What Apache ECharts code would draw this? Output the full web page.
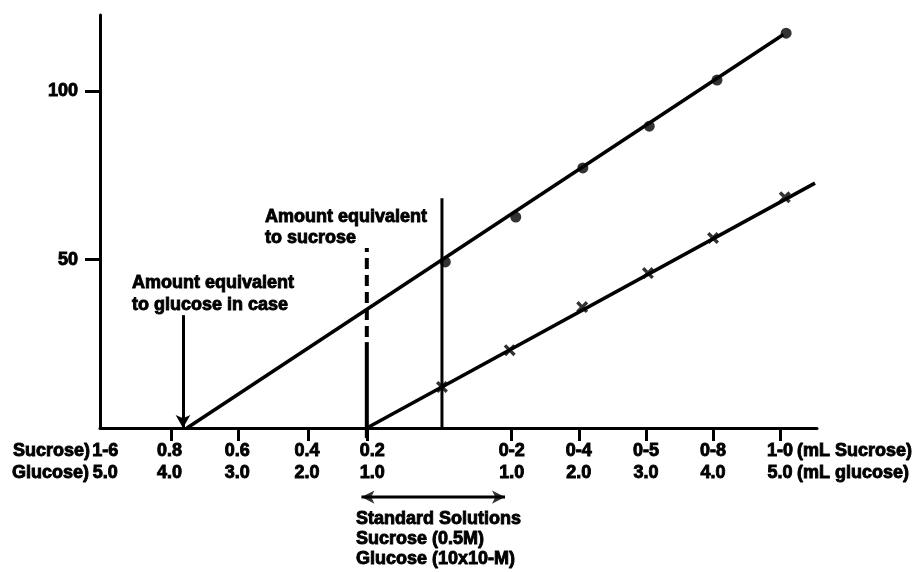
<!DOCTYPE html>
<html>
<head>
<meta charset="utf-8">
<script src="https://cdn.jsdelivr.net/npm/echarts@6/dist/echarts.min.js"></script>
<style>html,body{margin:0;padding:0;background:#fff}#c{width:916px;height:572px}</style>
</head>
<body>
<div id="c"></div>
<script>
// ---- data ----
const yTickValues = [50, 100];
const sucroseTickLabels = ['1-6', '0.8', '0.6', '0.4', '0.2', '0-2', '0-4', '0-5', '0-8', '1-0'];
const glucoseTickLabels = ['5.0', '4.0', '3.0', '2.0', '1.0', '1.0', '2.0', '3.0', '4.0', '5.0'];
const labelValues = [-5.06, -4.10, -3.09, -2.05, -1.08, 1, 2, 3, 4, 5];
const tickValues = [-4.07, -3.08, -2.04, -1.16, 1, 2, 3, 4, 5];
const sucrosePoints = [[0.01, 49.3], [1.06, 62.6], [2.06, 77.2], [3.05, 89.6], [4.06, 103.3], [5.09, 117.2]];
const glucosePoints = [[-0.04, 12.2], [0.97, 23.1], [2.05, 35.9], [3.03, 46.0], [4.0, 56.4], [5.07, 68.5]];
const sucroseFit = [[-3.84, 0], [5.05, 116.8]];
const glucoseFit = [[-1.16, 0], [5.52, 72.7]];
const sampleLine = [[-0.04, 0], [-0.04, 68.2]];
const sucroseMarkSolid = [[-1.16, -3], [-1.16, 25.5]];
const sucroseMarkDashed = [[-1.16, 27], [-1.16, 53.4]];
const glucoseArrow = [[-3.90, 33.5], [-3.90, 0]];
const standardsArrow = [[-1.24, -20.5], [0.90, -20.5]];

const FONT = '"Liberation Sans", Arial, sans-serif';
const chart = echarts.init(document.getElementById('c'));
const xSymbol = 'path://M0,2 L2,0 L5,3 L8,0 L10,2 L7,5 L10,8 L8,10 L5,7 L2,10 L0,8 L3,5 Z';

function txt(text, x, y, align) {
  return { type: 'text', x: x, y: y, style: { text: text, fontFamily: FONT, fontWeight: 'bold', fontSize: 18, fill: '#000', stroke: '#000', lineWidth: 0.9, align: align || 'left', verticalAlign: 'middle' } };
}

const lineBase = { type: 'line', symbol: 'none', clip: false, silent: true, lineStyle: { color: '#000', width: 3.5 } };

chart.setOption({
  animation: false,
  backgroundColor: '#fff',
  grid: { left: 100, top: 15, right: 99, bottom: 144, outerBoundsMode: 'none', containLabel: false },
  xAxis: {
    type: 'value', min: -5.137, max: 5.55,
    splitLine: { show: false },
    axisLine: { show: true, onZero: false, lineStyle: { color: '#000', width: 3 } },
    axisTick: { show: true, customValues: tickValues, length: 13, lineStyle: { color: '#000', width: 3 } },
    axisLabel: {
      show: true, customValues: labelValues, margin: 12,
      color: '#000', fontFamily: FONT, fontWeight: 'bold', fontSize: 18, lineHeight: 22,
      textBorderColor: '#000', textBorderWidth: 0.9,
      formatter: function (v) {
        let i = labelValues.findIndex(function (p) { return Math.abs(p - v) < 1e-6; });
        if (i < 0) return '';
        return sucroseTickLabels[i] + '\n' + glucoseTickLabels[i];
      }
    }
  },
  yAxis: {
    type: 'value', min: 0, max: 122.6,
    splitLine: { show: false },
    axisLine: { show: true, onZero: false, lineStyle: { color: '#000', width: 3 } },
    axisTick: { show: true, customValues: yTickValues, length: 15, lineStyle: { color: '#000', width: 3 } },
    axisLabel: { show: true, customValues: yTickValues, margin: 22, color: '#000', fontFamily: FONT, fontWeight: 'bold', fontSize: 18, textBorderColor: '#000', textBorderWidth: 0.9 }
  },
  series: [
    Object.assign({}, lineBase, { data: sucroseFit }),
    Object.assign({}, lineBase, { data: glucoseFit }),
    Object.assign({}, lineBase, { data: sampleLine, lineStyle: { color: '#000', width: 3 },
      markLine: {
        silent: true, label: { show: false }, symbolSize: [11, 13],
        lineStyle: { color: '#000', width: 3, type: 'solid' },
        emphasis: { disabled: true },
        data: [
          [{ coord: glucoseArrow[0], symbol: 'none' }, { coord: glucoseArrow[1], symbol: 'arrow' }]
        ]
      }
    }),
    Object.assign({}, lineBase, { data: sucroseMarkSolid, lineStyle: { color: '#000', width: 4 } }),
    Object.assign({}, lineBase, { data: sucroseMarkDashed, lineStyle: { color: '#000', width: 4, type: [11, 6] } }),
    Object.assign({}, lineBase, { data: standardsArrow, lineStyle: { color: '#000', width: 3 } }),
    { type: 'scatter', data: [standardsArrow[0]], symbol: 'arrow', symbolRotate: 90, symbolSize: [10, 13], itemStyle: { color: '#000' }, silent: true, clip: false },
    { type: 'scatter', data: [standardsArrow[1]], symbol: 'arrow', symbolRotate: -90, symbolSize: [10, 13], itemStyle: { color: '#000' }, silent: true, clip: false },
    { type: 'scatter', data: sucrosePoints, symbol: 'circle', symbolSize: 11, itemStyle: { color: '#000' }, silent: true, clip: false },
    { type: 'scatter', data: glucosePoints, symbol: xSymbol, symbolSize: 12, itemStyle: { color: '#000' }, silent: true, clip: false }
  ],
  graphic: [
    txt('Sucrose)', 90, 451, 'right'),
    txt('Glucose)', 89, 473, 'right'),
    txt('(mL Sucrose)', 797, 451),
    txt('(mL glucose)', 797, 473),
    txt('Standard Solutions', 356, 519),
    txt('Sucrose (0.5M)', 356, 539),
    txt('Glucose (10x10-M)', 356, 559),
    txt('Amount equivalent', 265, 217),
    txt('to sucrose', 265, 238),
    txt('Amount equivalent', 132, 283),
    txt('to glucose in case', 132, 305)
  ]
});
</script>
</body>
</html>
